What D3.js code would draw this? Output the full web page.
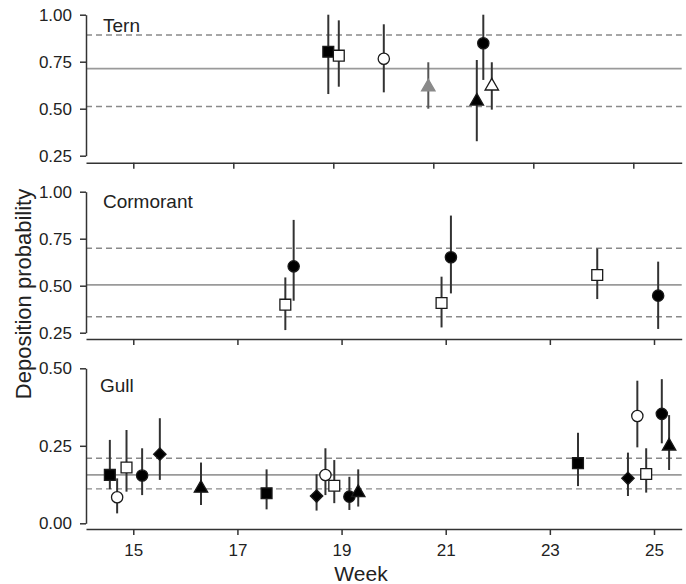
<!DOCTYPE html>
<html><head><meta charset="utf-8">
<script src="https://cdn.jsdelivr.net/npm/d3@7"></script>
<style>
body{margin:0;background:#fff;}
svg text{font-family:"Liberation Sans",Arial,sans-serif;fill:#222;}
</style></head>
<body><svg id="chart" width="686" height="584"></svg>
<script>
// ---- data ----
const panelNames = ["Tern", "Cormorant", "Gull"];
const weekTicks = [15, 17, 19, 21, 23, 25];

const ternWeek  = [18.9, 19.11, 20.01, 20.9, 21.87, 22.0, 22.17];
const ternProb  = [0.803, 0.782, 0.766, 0.615, 0.54, 0.848, 0.62];
const ternLow   = [0.578, 0.617, 0.587, 0.50, 0.327, 0.653, 0.495];
const ternHigh  = [1.0, 0.97, 0.949, 0.747, 0.759, 1.0, 0.747];
const ternShape = ["squareFilled","squareOpen","circleOpen","triangleGray","triangleFilled","circleFilled","triangleOpen"];
const ternRef   = [0.512, 0.713, 0.892];
const ternYTicks = [0.25, 0.50, 0.75, 1.00];

const cormWeek  = [17.92, 18.08, 20.92, 21.1, 23.91, 25.08];
const cormProb  = [0.399, 0.603, 0.408, 0.651, 0.557, 0.447];
const cormLow   = [0.264, 0.42, 0.278, 0.459, 0.429, 0.27];
const cormHigh  = [0.544, 0.85, 0.548, 0.873, 0.698, 0.628];
const cormShape = ["squareOpen","circleFilled","squareOpen","circleFilled","squareOpen","circleFilled"];
const cormRef   = [0.335, 0.504, 0.699];
const cormYTicks = [0.25, 0.50, 0.75, 1.00];

const gullWeek  = [14.55, 14.69, 14.87, 15.17, 15.51, 16.3, 17.56, 18.52, 18.69, 18.86, 19.15, 19.32, 23.54, 24.5, 24.68, 24.85, 25.15, 25.29];
const gullProb  = [0.156, 0.084, 0.18, 0.154, 0.223, 0.113, 0.097, 0.088, 0.156, 0.121, 0.086, 0.099, 0.194, 0.145, 0.346, 0.159, 0.353, 0.249];
const gullLow   = [0.11, 0.032, 0.102, 0.091, 0.14, 0.059, 0.045, 0.041, 0.091, 0.065, 0.043, 0.054, 0.12, 0.088, 0.245, 0.099, 0.258, 0.172];
const gullHigh  = [0.269, 0.145, 0.301, 0.242, 0.339, 0.196, 0.174, 0.158, 0.242, 0.204, 0.15, 0.174, 0.292, 0.228, 0.46, 0.242, 0.465, 0.349];
const gullShape = ["squareFilled","circleOpen","squareOpen","circleFilled","diamondFilled","triangleFilled","squareFilled","diamondFilled","circleOpen","squareOpen","circleFilled","triangleFilled","squareFilled","diamondFilled","circleOpen","squareOpen","circleFilled","triangleFilled"];
const gullRef   = [0.111, 0.156, 0.21];
const gullYTicks = [0.00, 0.25, 0.50];

// ---- layout ----
const svg = d3.select("#chart");
const xLeft = 86, xRight = 681.7;

const panels = [
  {name: panelNames[0], week: ternWeek, prob: ternProb, low: ternLow, high: ternHigh, shape: ternShape, ref: ternRef, yTicks: ternYTicks,
   xDomain: [14.054, 25.968], yDomain: [0.25, 1], yRange: [155.7, 14.7], axisY: 162.7, labelY: 32.3, labelX: 103, showX: false},
  {name: panelNames[1], week: cormWeek, prob: cormProb, low: cormLow, high: cormHigh, shape: cormShape, ref: cormRef, yTicks: cormYTicks,
   xDomain: [14.092, 25.532], yDomain: [0.25, 1], yRange: [332.7, 191.7], axisY: 339, labelY: 208.3, labelX: 103, showX: false},
  {name: panelNames[2], week: gullWeek, prob: gullProb, low: gullLow, high: gullHigh, shape: gullShape, ref: gullRef, yTicks: gullYTicks,
   xDomain: [14.092, 25.532], yDomain: [0, 0.5], yRange: [523.3, 368.3], axisY: 529, labelY: 392.3, labelX: 100, showX: true}
];

function diamondPath(r){ return `M0,${-r}L${r},0L0,${r}L${-r},0Z`; }

function marker(g, shape, x, y){
  let path, fill, stroke = "#1a1a1a", sw = 1.3;
  if (shape.startsWith("square")) path = d3.symbol(d3.symbolSquare, 118)();
  else if (shape.startsWith("circle")) path = d3.symbol(d3.symbolCircle, 100)();
  else if (shape.startsWith("triangle")) path = d3.symbol(d3.symbolTriangle, 78)();
  else path = diamondPath(6.2);
  if (shape.endsWith("Open")) fill = "#fff";
  else if (shape.endsWith("Gray")) { fill = "#8a8a8a"; stroke = "#8a8a8a"; }
  else fill = "#000";
  g.append("path").attr("d", path).attr("transform", `translate(${x},${y})`)
    .attr("fill", fill).attr("stroke", stroke).attr("stroke-width", sw);
}

panels.forEach(p => {
  const x = d3.scaleLinear().domain(p.xDomain).range([xLeft, xRight]);
  const y = d3.scaleLinear().domain(p.yDomain).range(p.yRange);
  const g = svg.append("g");

  // reference lines
  p.ref.forEach((v, i) => {
    g.append("line").attr("x1", xLeft).attr("x2", xRight).attr("y1", y(v)).attr("y2", y(v))
      .attr("stroke", i === 1 ? "#9a9a9a" : "#8a8a8a")
      .attr("stroke-width", i === 1 ? 1.8 : 1.4)
      .attr("stroke-dasharray", i === 1 ? null : "6,4");
  });

  // y axis
  const ya = d3.axisLeft(y).tickValues(p.yTicks).tickFormat(d3.format(".2f")).tickSize(6).tickSizeOuter(0).tickPadding(8);
  const yg = g.append("g").attr("transform", `translate(${xLeft},0)`).call(ya);
  yg.selectAll("path,line").attr("stroke", "#333").attr("stroke-width", 1.5);
  yg.selectAll("text").attr("font-size", 17).attr("fill", "#222").style("font-family", '"Liberation Sans",Arial,sans-serif');

  // x axis
  const xa = d3.axisBottom(x).tickValues(weekTicks).tickSize(6).tickSizeOuter(0).tickPadding(9)
    .tickFormat(p.showX ? d3.format("d") : () => "");
  const xg = g.append("g").attr("transform", `translate(0,${p.axisY})`).call(xa);
  xg.selectAll("path,line").attr("stroke", "#333").attr("stroke-width", 1.5);
  xg.selectAll("text").attr("font-size", 17).attr("fill", "#222").style("font-family", '"Liberation Sans",Arial,sans-serif');

  // panel label
  g.append("text").attr("x", p.labelX).attr("y", p.labelY).attr("font-size", 19).text(p.name);

  // error bars and markers
  p.week.forEach((w, i) => {
    g.append("line").attr("x1", x(w)).attr("x2", x(w)).attr("y1", y(p.low[i])).attr("y2", y(p.high[i]))
      .attr("stroke", p.shape[i] === "triangleGray" ? "#555" : "#333").attr("stroke-width", 2);
  });
  p.week.forEach((w, i) => marker(g, p.shape[i], x(w), y(p.prob[i])));
});

// axis titles
svg.append("text").attr("x", 361).attr("y", 581).attr("text-anchor", "middle").attr("font-size", 21).text("Week");
svg.append("text").attr("transform", "translate(31,294) rotate(-90)").attr("text-anchor", "middle").attr("font-size", 22).text("Deposition probability");
</script></body></html>
